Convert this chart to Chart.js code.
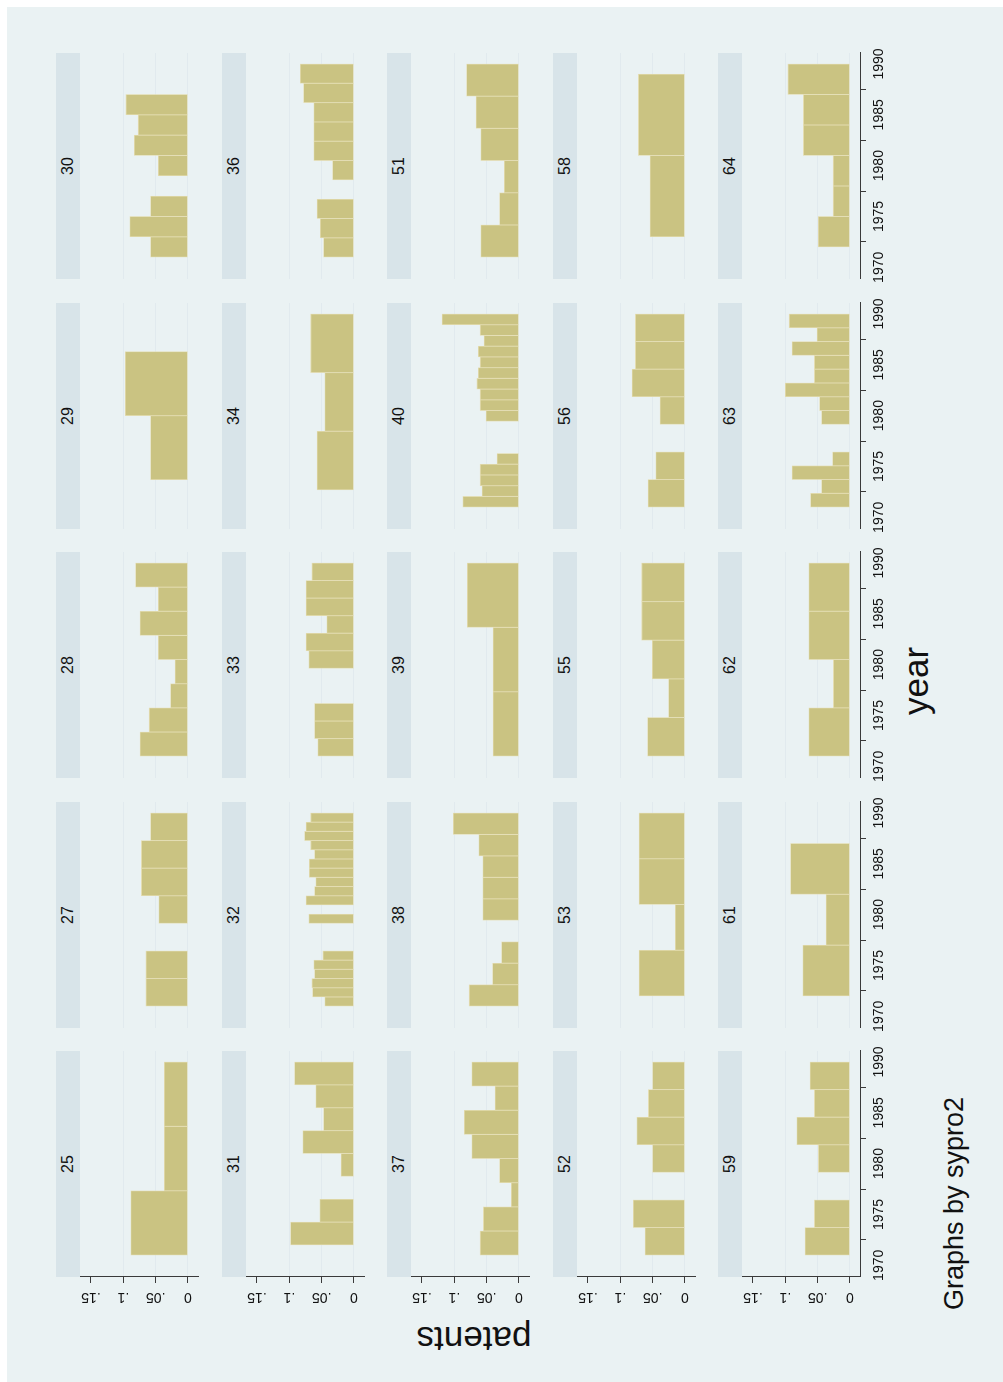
<!DOCTYPE html>
<html>
<head>
<meta charset="utf-8">
<script src="https://cdn.jsdelivr.net/npm/chart.js@4.4.1/dist/chart.umd.min.js"></script>
<style>
  html, body { margin: 0; padding: 0; background: #fff; }
  body { width: 1003px; height: 1382px; overflow: hidden; position: relative; font-family: 'Liberation Sans', Arial, sans-serif; }
  /* the Stata graph is drawn upright, then turned a quarter left */
  #grafico { position: absolute; left: 0; top: 0; width: 1382px; height: 1003px; transform-origin: 0 0; transform: translate(0, 1382px) rotate(-90deg); }
  #fondo { position: absolute; left: 0; top: 7px; width: 1375px; height: 996px; background: #eaf2f3; }
  .tira { position: absolute; width: 226px; height: 24px; background: #d8e4e9; color: #111; font-size: 16px; line-height: 24px; text-align: center; }
  .panel { position: absolute; }
  .titulo { position: absolute; color: #111; white-space: nowrap; }
</style>
</head>
<body>
<div id="grafico">
  <div id="fondo"></div>
  <div class="titulo" style="left:501px; top:898px; width:400px; text-align:center; font-size:35px; line-height:35px;">year</div>
  <div class="titulo" style="left:43px; top:474px; font-size:35px; line-height:35px; transform:translate(-50%,-50%) rotate(-90deg);">patents</div>
  <div class="titulo" style="left:72px; top:941px; font-size:27px; line-height:27px;">Graphs by sypro2</div>
</div>
<script>
// Groups (sypro2), one histogram each
const sypro2 = [25, 27, 28, 29, 30, 31, 32, 33, 34, 36, 37, 38, 39, 40, 51, 52, 53, 55, 56, 58, 59, 61, 62, 63, 64];

// First and last bin edge (year) of each histogram
const binFirst = [1971, 1971, 1971, 1973.7, 1971, 1972, 1971, 1971, 1972.7, 1971, 1971, 1971, 1971, 1971, 1971, 1971, 1972, 1971, 1971, 1973, 1971, 1972, 1971, 1971, 1972];
const binLast = [1990, 1990, 1990, 1986.3, 1987, 1990, 1990, 1990, 1990, 1990, 1990, 1990, 1990, 1990, 1990, 1990, 1990, 1990, 1990, 1989, 1990, 1987, 1990, 1990, 1990];

// Density of each bin, oldest bin first
const density = [
  [0.0885, 0.0365, 0.0365],
  [0.065, 0.065, 0, 0.045, 0.072, 0.072, 0.058],
  [0.074, 0.060, 0.027, 0.020, 0.046, 0.074, 0.046, 0.081],
  [0.058, 0.097],
  [0.058, 0.090, 0.058, 0, 0.046, 0.083, 0.077, 0.096],
  [0.098, 0.053, 0, 0.020, 0.079, 0.047, 0.059, 0.092],
  [0.045, 0.064, 0.065, 0.061, 0.062, 0.048, 0, 0, 0, 0.070, 0, 0.074, 0.061, 0.059, 0.069, 0.069, 0.061, 0.067, 0.0765, 0.074, 0.067],
  [0.056, 0.061, 0.061, 0, 0, 0.070, 0.074, 0.042, 0.074, 0.074, 0.065],
  [0.057, 0.045, 0.067],
  [0.047, 0.052, 0.057, 0, 0.033, 0.062, 0.062, 0.062, 0.078, 0.083],
  [0.060, 0.055, 0.012, 0.030, 0.073, 0.0845, 0.037, 0.073],
  [0.077, 0.041, 0.027, 0, 0.056, 0.056, 0.056, 0.062, 0.1015],
  [0.040, 0.040, 0.080],
  [0.087, 0.057, 0.060, 0.060, 0.034, 0, 0, 0, 0.051, 0.060, 0.060, 0.065, 0.063, 0.060, 0.063, 0.054, 0.060, 0.119],
  [0.059, 0.030, 0.0227, 0.059, 0.0665, 0.081],
  [0.0617, 0.080, 0, 0.050, 0.0746, 0.0565, 0.050],
  [0.071, 0.015, 0.071, 0.071],
  [0.058, 0.0255, 0.0505, 0.067, 0.067],
  [0.057, 0.045, 0, 0.0385, 0.082, 0.0766, 0.0766],
  [0.054, 0.072],
  [0.0694, 0.055, 0, 0.0488, 0.0823, 0.055, 0.0617],
  [0.073, 0.037, 0.092],
  [0.0636, 0.0256, 0.0636, 0.0636],
  [0.061, 0.044, 0.0897, 0.027, 0, 0, 0.044, 0.047, 0.100, 0.055, 0.055, 0.0897, 0.051, 0.094],
  [0.049, 0.026, 0.026, 0.072, 0.072, 0.096]
];

// Axis ticks
const yearTicks = [1970, 1975, 1980, 1985, 1990];
const patentTicks = [0, 0.05, 0.1, 0.15];
const patentTickLabels = ['0', '.05', '.1', '.15'];

// Axis ranges of every panel (Stata plot region margins included)
const yearMin = 1968.85;
const yearMax = 1991.08;
const patentMin = -0.0155;
const patentMax = 0.167;

// Panel placement in the upright graph
const panelLeft = [105, 354, 604, 853, 1103];
const rowTop = [56, 222, 387, 553, 718];
const panelWidth = 226;
const stripHeight = 24;
const plotHeight = 118;

const axisColor = '#3a3a3a';
const gridColor = '#e1eaee';

Chart.defaults.font.family = "'Liberation Sans', Arial, sans-serif";
Chart.defaults.color = '#111';

const grafico = document.getElementById('grafico');

sypro2.forEach((grupo, k) => {
  const fila = Math.floor(k / 5);
  const col = k % 5;
  const left = panelLeft[col];
  const top = rowTop[fila];
  const conEjeY = col === 0;
  const conEjeX = fila === 4;

  // Strip with the group value
  const tira = document.createElement('div');
  tira.className = 'tira';
  tira.style.left = left + 'px';
  tira.style.top = top + 'px';
  tira.textContent = String(grupo);
  grafico.appendChild(tira);

  // Canvas around the plot region, with room for the axes where needed
  const padL = conEjeY ? 50 : 10;
  const padB = conEjeX ? 40 : 10;
  const canvas = document.createElement('canvas');
  canvas.className = 'panel';
  canvas.width = padL + panelWidth + 10;
  canvas.height = 10 + plotHeight + padB;
  canvas.style.width = canvas.width + 'px';
  canvas.style.height = canvas.height + 'px';
  canvas.style.left = (left - padL) + 'px';
  canvas.style.top = (top + stripHeight - 10) + 'px';
  grafico.appendChild(canvas);

  // Bins are evenly spaced inside each panel
  const ancho = (binLast[k] - binFirst[k]) / density[k].length;
  const puntos = density[k].map((v, b) => ({ x: binFirst[k] + (b + 0.5) * ancho, y: v }));

  new Chart(canvas, {
    type: 'bar',
    data: {
      datasets: [{
        data: puntos,
        xAxisID: 'bins',
        yAxisID: 'y',
        backgroundColor: '#cac382',
        borderColor: '#e4ddb2',
        borderWidth: 0.8,
        borderSkipped: false,
        categoryPercentage: 1,
        barPercentage: 1
      }]
    },
    options: {
      responsive: false,
      animation: false,
      events: [],
      layout: { padding: { left: conEjeY ? 0 : 10, right: 10, top: 10, bottom: conEjeX ? 0 : 10 } },
      plugins: { legend: { display: false }, tooltip: { enabled: false } },
      scales: {
        // hidden axis without ticks, so the bars take the full bin width
        bins: {
          type: 'linear', axis: 'x', position: 'bottom', display: false, offset: false,
          min: yearMin, max: yearMax,
          afterBuildTicks: s => { s.ticks = []; }
        },
        x: {
          type: 'linear', position: 'bottom', display: conEjeX, offset: false,
          min: yearMin, max: yearMax,
          afterBuildTicks: s => { s.ticks = yearTicks.map(v => ({ value: v })); },
          afterFit: s => { s.height = conEjeX ? 40 : 0; s.paddingLeft = 0; s.paddingRight = 0; },
          grid: { drawOnChartArea: false, drawTicks: true, tickLength: 6, tickColor: axisColor, tickWidth: 1 },
          border: { display: true, color: axisColor, width: 1 },
          ticks: { maxRotation: 0, autoSkip: false, padding: 5, font: { size: 14 }, callback: v => String(v) }
        },
        y: {
          type: 'linear', position: 'left',
          min: patentMin, max: patentMax,
          afterBuildTicks: s => { s.ticks = patentTicks.map(v => ({ value: v })); },
          afterFit: s => { s.width = conEjeY ? 50 : 0; s.paddingTop = 0; s.paddingBottom = 0; },
          grid: {
            color: c => (c.tick && c.tick.value === 0.15) ? 'rgba(0,0,0,0)' : gridColor,
            lineWidth: 1, drawTicks: conEjeY, tickLength: 6, tickColor: axisColor, tickWidth: 1
          },
          border: { display: conEjeY, color: axisColor, width: 1 },
          ticks: {
            display: conEjeY, minRotation: 90, maxRotation: 90, padding: 4, crossAlign: 'center',
            autoSkip: false, font: { size: 14 }, callback: (v, i) => patentTickLabels[i]
          }
        }
      }
    }
  });
});
</script>
</body>
</html>
